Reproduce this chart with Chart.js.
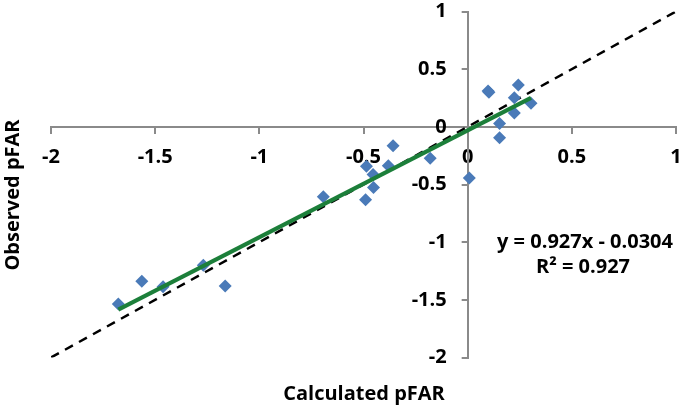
<!DOCTYPE html>
<html>
<head>
<meta charset="utf-8">
<script src="https://cdn.jsdelivr.net/npm/chart.js@4.4.1/dist/chart.umd.min.js"></script>
<style>
    html, body { margin: 0; padding: 0; background: #fff; }
    #wrap { width: 683px; height: 409px; }
</style>
</head>
<body>
<div id="wrap"><canvas id="chart"></canvas></div>
<script>
// values
const calculated = [-1.677, -1.564, -1.462, -1.269, -1.164, -0.693, -0.486, -0.49, -0.454, -0.452,
    -0.381, -0.358, -0.18, 0.008, 0.098, 0.102, 0.153, 0.153, 0.224, 0.224, 0.243, 0.304];
const observed = [-1.537, -1.338, -1.387, -1.2, -1.381, -0.607, -0.342, -0.633, -0.414, -0.527,
    -0.337, -0.164, -0.273, -0.443, 0.311, 0.3, 0.029, -0.095, 0.253, 0.121, 0.363, 0.204];

const trendX = [-1.677, 0.304];
const trendY = [-1.585, 0.251];
const oneToOneX = [-2, 1];
const oneToOneY = [-2, 1];

const xTicks = [-2, -1.5, -1, -0.5, 0, 0.5, 1];
const yTicks = [-2, -1.5, -1, -0.5, 0, 0.5, 1];

const xTitle = "Calculated pFAR";
const yTitle = "Observed pFAR";
const equation = ["y = 0.927x - 0.0304", "R² = 0.927"];

const toPoints = (xs, ys) => xs.map((x, i) => ({x, y: ys[i]}));

const FONT = "'Open Sans'";
const AXIS_GREY = "#8a8a8a";

// move the (left) y axis so it crosses the x axis at x = 0
// labels are clipped to the scale box, so leave it some width
const crossAtZero = {
    id: "crossAtZero",
    afterLayout(chart) {
        const y = chart.scales.y;
        const px = chart.scales.x.getPixelForValue(0);
        y.right = px;
        y.left = px - 80;
        y.width = 80;
    }
};

const textPlugin = {
    id: "texts",
    afterDraw(chart) {
        const ctx = chart.ctx;
        ctx.save();
        ctx.fillStyle = "#000";
        ctx.textAlign = "center";
        ctx.textBaseline = "middle";
        ctx.font = "bold 20px " + FONT;
        ctx.fillText(equation[0], 585, 242);
        ctx.fillText(equation[1], 583, 267);
        ctx.fillText(xTitle, 364, 394);
        ctx.translate(13, 195);
        ctx.rotate(-Math.PI / 2);
        ctx.fillText(yTitle, 0, 0);
        ctx.restore();
    }
};

const ctx = document.getElementById("chart").getContext("2d");

new Chart(ctx, {
    type: "scatter",
    data: {
        datasets: [
            {
                label: "trend",
                type: "line",
                data: toPoints(trendX, trendY),
                borderColor: "#1c7f3a",
                borderWidth: 4,
                pointRadius: 0,
                order: 0,
            },
            {
                label: "observed",
                data: toPoints(calculated, observed),
                pointStyle: "rectRot",
                pointRadius: 6.5,
                backgroundColor: "#4a7ab8",
                borderColor: "#4a7ab8",
                borderWidth: 0,
                order: 1,
            },
            {
                label: "1:1",
                type: "line",
                data: toPoints(oneToOneX, oneToOneY),
                borderColor: "#000",
                borderWidth: 2.5,
                borderDash: [9, 7],
                pointRadius: 0,
                order: 2,
            },
        ],
    },
    options: {
        responsive: true,
        maintainAspectRatio: false,
        animation: false,
        layout: {padding: {left: 51, right: 7, top: 11.5, bottom: 51.5}},
        plugins: {
            legend: {display: false},
            tooltip: {enabled: false},
        },
        scales: {
            x: {
                type: "linear",
                position: {y: 0},
                min: -2,
                max: 1,
                afterFit: s => { s.height = 0; s.paddingLeft = 0; s.paddingRight = 0; },
                afterBuildTicks: s => { s.ticks = xTicks.map(v => ({value: v})); },
                grid: {drawOnChartArea: false, drawTicks: true, tickLength: 6, color: AXIS_GREY, lineWidth: 2},
                border: {color: AXIS_GREY, width: 2},
                ticks: {
                    padding: 12,
                    autoSkip: false,
                    maxRotation: 0,
                    color: "#000",
                    font: {family: FONT, size: 20, weight: "bold"},
                    callback: v => String(v),
                },
            },
            y: {
                type: "linear",
                position: "left",
                min: -2,
                max: 1,
                afterFit: s => { s.width = 0; s.paddingTop = 0; s.paddingBottom = 0; },
                afterBuildTicks: s => { s.ticks = yTicks.map(v => ({value: v})); },
                grid: {drawOnChartArea: false, drawTicks: true, tickLength: 6, color: AXIS_GREY, lineWidth: 2},
                border: {color: AXIS_GREY, width: 2},
                ticks: {
                    padding: 15,
                    autoSkip: false,
                    color: "#000",
                    font: {family: FONT, size: 20, weight: "bold"},
                    callback: v => String(v),
                },
            },
        },
    },
    plugins: [crossAtZero, textPlugin],
});
</script>
</body>
</html>
